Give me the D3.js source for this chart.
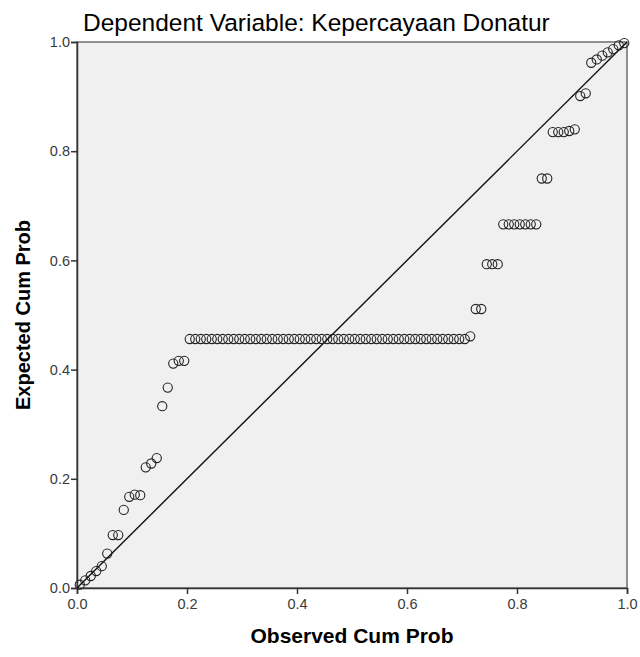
<!DOCTYPE html>
<html>
<head>
<meta charset="utf-8">
<script src="https://cdn.jsdelivr.net/npm/d3@7"></script>
<style>
  body { margin: 0; background: #fff; }
  svg { font-family: "Liberation Sans", Arial, sans-serif; }
</style>
</head>
<body>
<div id="chart"></div>
<script>
var chartTitle = "Dependent Variable: Kepercayaan Donatur";
var xTitle = "Observed Cum Prob";
var yTitle = "Expected Cum Prob";
var tickValues = [0, 0.2, 0.4, 0.6, 0.8, 1.0];

// observed cumulative probability of each case
var observed = [
  0.005, 0.015, 0.025, 0.035, 0.045, 0.055, 0.065, 0.075, 0.085, 0.095,
  0.105, 0.115, 0.125, 0.135, 0.145, 0.155, 0.165, 0.175, 0.185, 0.195,
  0.205, 0.215, 0.225, 0.235, 0.245, 0.255, 0.265, 0.275, 0.285, 0.295,
  0.305, 0.315, 0.325, 0.335, 0.345, 0.355, 0.365, 0.375, 0.385, 0.395,
  0.405, 0.415, 0.425, 0.435, 0.445, 0.455, 0.465, 0.475, 0.485, 0.495,
  0.505, 0.515, 0.525, 0.535, 0.545, 0.555, 0.565, 0.575, 0.585, 0.595,
  0.605, 0.615, 0.625, 0.635, 0.645, 0.655, 0.665, 0.675, 0.685, 0.695,
  0.705, 0.715, 0.725, 0.735, 0.745, 0.755, 0.765, 0.775, 0.785, 0.795,
  0.805, 0.815, 0.825, 0.835, 0.845, 0.855, 0.865, 0.875, 0.885, 0.895,
  0.905, 0.915, 0.925, 0.935, 0.945, 0.955, 0.965, 0.975, 0.985, 0.995
];

// expected cumulative probability of each case
var expected = [
  0.006, 0.014, 0.022, 0.031, 0.040, 0.063, 0.097, 0.097, 0.143, 0.167,
  0.171, 0.170, 0.221, 0.228, 0.238, 0.333, 0.367, 0.411, 0.416, 0.416,
  0.456, 0.456, 0.456, 0.456, 0.456, 0.456, 0.456, 0.456, 0.456, 0.456,
  0.456, 0.456, 0.456, 0.456, 0.456, 0.456, 0.456, 0.456, 0.456, 0.456,
  0.456, 0.456, 0.456, 0.456, 0.456, 0.456, 0.456, 0.456, 0.456, 0.456,
  0.456, 0.456, 0.456, 0.456, 0.456, 0.456, 0.456, 0.456, 0.456, 0.456,
  0.456, 0.456, 0.456, 0.456, 0.456, 0.456, 0.456, 0.456, 0.456, 0.456,
  0.456, 0.461, 0.511, 0.511, 0.593, 0.593, 0.593, 0.666, 0.666, 0.666,
  0.666, 0.666, 0.666, 0.666, 0.750, 0.750, 0.835, 0.835, 0.835, 0.837,
  0.840, 0.901, 0.906, 0.962, 0.968, 0.975, 0.981, 0.987, 0.994, 0.998
];

var width = 640, height = 657;
var margin = {top: 42, right: 13, bottom: 69, left: 77};

var svg = d3.select("#chart")
  .append("svg")
    .attr("width", width)
    .attr("height", height);

var x = d3.scaleLinear()
    .domain([0, 1])
    .range([margin.left, width - margin.right]);

var y = d3.scaleLinear()
    .domain([0, 1])
    .range([height - margin.bottom, margin.top]);

// plot background and frame
svg.append("rect")
    .attr("x", x(0))
    .attr("y", y(1))
    .attr("width", x(1) - x(0))
    .attr("height", y(0) - y(1))
    .attr("fill", "#f0f0f0")
    .attr("stroke", "#6e6e6e")
    .attr("stroke-width", 1.5);

var xAxis = svg.append("g")
    .attr("transform", "translate(0," + y(0) + ")")
    .call(d3.axisBottom(x).tickValues(tickValues).tickFormat(d3.format(".1f")).tickSizeOuter(0).tickSize(6));

var yAxis = svg.append("g")
    .attr("transform", "translate(" + x(0) + ",0)")
    .call(d3.axisLeft(y).tickValues(tickValues).tickFormat(d3.format(".1f")).tickSizeOuter(0).tickSize(6));

[xAxis, yAxis].forEach(function(g) {
	g.select(".domain").attr("stroke", "#333").attr("stroke-width", 1.5);
	g.selectAll(".tick line").attr("stroke", "#333").attr("stroke-width", 1.5);
	g.selectAll(".tick text")
	    .attr("fill", "#3a3a3a")
	    .style("font-size", "14.5px")
	    .style("font-family", "\"Liberation Sans\", Arial, sans-serif");
});
xAxis.selectAll(".tick text").attr("dy", "0.9em").attr("y", 8);
yAxis.selectAll(".tick text").attr("x", -7);

// reference diagonal
svg.append("line")
    .attr("x1", x(0))
    .attr("y1", y(0))
    .attr("x2", x(1))
    .attr("y2", y(1))
    .attr("stroke", "#111")
    .attr("stroke-width", 1.4);

svg.append("g")
  .selectAll("circle")
  .data(observed)
  .enter()
  .append("circle")
    .attr("cx", function(d) { return x(d); })
    .attr("cy", function(d, i) { return y(expected[i]); })
    .attr("r", 4.6)
    .attr("fill", "none")
    .attr("stroke", "#222")
    .attr("stroke-width", 1.1);

svg.append("text")
    .attr("x", 83)
    .attr("y", 31)
    .attr("fill", "#000")
    .style("font-size", "24.5px")
    .text(chartTitle);

svg.append("text")
    .attr("x", (x(0) + x(1)) / 2)
    .attr("y", 643)
    .attr("text-anchor", "middle")
    .attr("fill", "#000")
    .style("font-size", "21px")
    .style("font-weight", "bold")
    .text(xTitle);

svg.append("text")
    .attr("transform", "translate(30," + ((y(0) + y(1)) / 2) + ") rotate(-90)")
    .attr("text-anchor", "middle")
    .attr("fill", "#000")
    .style("font-size", "20px")
    .style("font-weight", "bold")
    .text(yTitle);
</script>
</body>
</html>
